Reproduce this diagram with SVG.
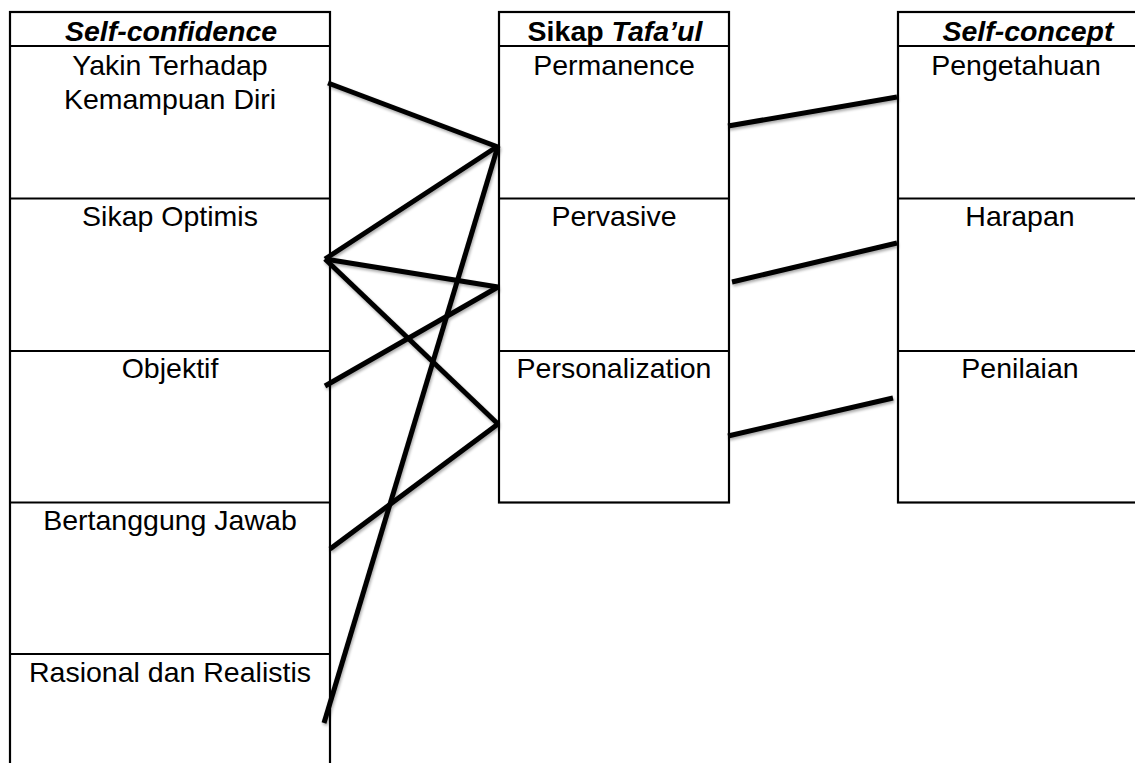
<svg xmlns="http://www.w3.org/2000/svg" width="1135" height="763" viewBox="0 0 1135 763">
<style>
.box{fill:#fff;stroke:#000;stroke-width:2.2}
.sep{stroke:#000;stroke-width:2.2}
.h{font-family:"Liberation Sans",Arial,sans-serif;font-size:28.5px;font-weight:bold;font-style:italic;text-anchor:middle;fill:#000}
.t{font-family:"Liberation Sans",Arial,sans-serif;font-size:28.5px;text-anchor:middle;fill:#000}
.c{stroke:#000;stroke-width:5;stroke-linecap:butt;fill:none}
</style>
<defs>
<filter id="sh" x="-10%" y="-10%" width="120%" height="120%">
<feGaussianBlur in="SourceAlpha" stdDeviation="1.5"/>
<feOffset dx="1" dy="2" result="b"/>
<feComponentTransfer><feFuncA type="linear" slope="0.35"/></feComponentTransfer>
<feMerge><feMergeNode/><feMergeNode in="SourceGraphic"/></feMerge>
</filter>
</defs>
<rect width="1135" height="763" fill="#fff"/>
<g id="self-confidence">
<rect class="box" x="10" y="12" width="320" height="770"/>
<line class="sep" x1="10" y1="46" x2="330" y2="46"/>
<line class="sep" x1="10" y1="198.5" x2="330" y2="198.5"/>
<line class="sep" x1="10" y1="351" x2="330" y2="351"/>
<line class="sep" x1="10" y1="502.5" x2="330" y2="502.5"/>
<line class="sep" x1="10" y1="654" x2="330" y2="654"/>
<text class="h" x="171" y="41">Self-confidence</text>
<text class="t" x="170" y="75">Yakin Terhadap</text>
<text class="t" x="170" y="109">Kemampuan Diri</text>
<text class="t" x="170" y="226">Sikap Optimis</text>
<text class="t" x="170" y="378">Objektif</text>
<text class="t" x="170" y="530">Bertanggung Jawab</text>
<text class="t" x="170" y="682">Rasional dan Realistis</text>
</g>
<g id="sikap-tafaul">
<rect class="box" x="499" y="12" width="230" height="490.5"/>
<line class="sep" x1="499" y1="46" x2="729" y2="46"/>
<line class="sep" x1="499" y1="198.5" x2="729" y2="198.5"/>
<line class="sep" x1="499" y1="351" x2="729" y2="351"/>
<text class="h" x="615" y="41"><tspan font-style="normal">Sikap </tspan>Tafa’ul</text>
<text class="t" x="614" y="75">Permanence</text>
<text class="t" x="614" y="226">Pervasive</text>
<text class="t" x="614" y="378">Personalization</text>
</g>
<g id="self-concept">
<rect class="box" x="898" y="12" width="250" height="490.5"/>
<line class="sep" x1="898" y1="46" x2="1140" y2="46"/>
<line class="sep" x1="898" y1="198.5" x2="1140" y2="198.5"/>
<line class="sep" x1="898" y1="351" x2="1140" y2="351"/>
<text class="h" x="1028" y="41">Self-concept</text>
<text class="t" x="1016" y="75">Pengetahuan</text>
<text class="t" x="1020" y="226">Harapan</text>
<text class="t" x="1020" y="378">Penilaian</text>
</g>
<g id="connectors" filter="url(#sh)">
<line class="c" x1="328" y1="83" x2="498" y2="147"/>
<line class="c" x1="325" y1="259" x2="498" y2="146"/>
<line class="c" x1="325" y1="259" x2="498" y2="287"/>
<line class="c" x1="325" y1="259" x2="498" y2="424"/>
<line class="c" x1="325" y1="386" x2="498" y2="287"/>
<line class="c" x1="330" y1="549" x2="498" y2="424"/>
<line class="c" x1="324" y1="723" x2="498" y2="146"/>
<line class="c" x1="728" y1="126" x2="897" y2="97"/>
<line class="c" x1="732" y1="282" x2="897" y2="243"/>
<line class="c" x1="728" y1="436" x2="893" y2="398"/>
</g>
</svg>
